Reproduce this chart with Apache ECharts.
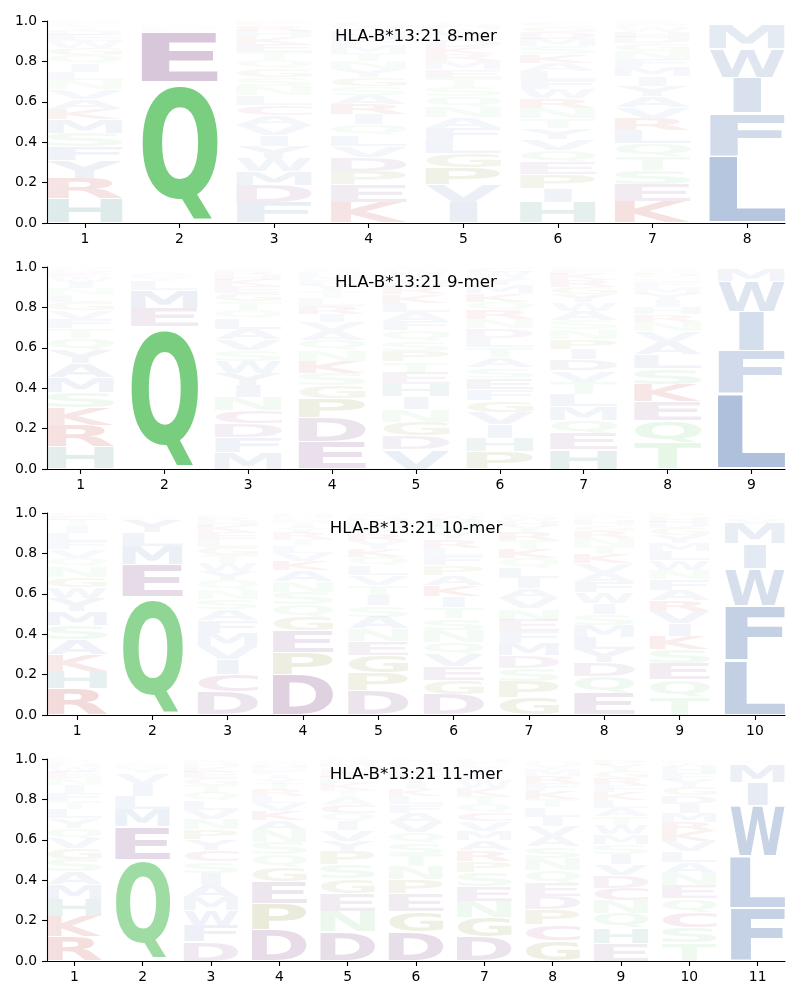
<!DOCTYPE html>
<html><head><meta charset="utf-8">
<script src="https://cdn.jsdelivr.net/npm/echarts@6/dist/echarts.min.js"></script>
<style>html,body{margin:0;padding:0;background:#fff}#chart{width:800px;height:1000px}</style>
</head><body><div id="chart"></div>
<script>
// ---------------- data (letter : probability per position) ----------------
const allele = 'HLA-B*13:21';
const lengths = [8, 9, 10, 11];
const yTicks = [0, 0.2, 0.4, 0.6, 0.8, 1.0];

const mer8 = [
 {H:.12,R:.10,Y:.088,F:.07,S:.068,M:.068,K:.05,A:.05,V:.048,N:.045,L:.042,I:.04,Q:.04,G:.038,W:.035,E:.03,D:.025,T:.02,C:.013,P:.01},
 {Q:.695,E:.25,L:.012,M:.01,Y:.008,D:.007,S:.006,T:.006,A:.006},
 {F:.10,D:.085,M:.07,W:.065,Y:.058,I:.055,V:.052,A:.05,C:.048,L:.048,N:.045,S:.045,G:.043,Q:.043,T:.04,E:.037,K:.035,H:.03,R:.028,P:.02},
 {K:.10,E:.088,P:.07,D:.068,V:.056,L:.055,Q:.05,I:.05,R:.05,A:.045,Y:.04,N:.04,S:.045,G:.045,T:.04,M:.038,F:.036,H:.032,W:.028,C:.02},
 {I:.10,V:.09,P:.085,G:.068,L:.065,F:.06,A:.055,N:.052,Q:.05,S:.048,T:.045,E:.042,M:.04,R:.036,K:.034,D:.034,Y:.03,W:.025,H:.022,C:.015},
 {H:.10,I:.07,P:.07,E:.062,Q:.058,V:.056,Y:.052,T:.05,N:.05,R:.048,W:.046,F:.045,L:.044,A:.042,K:.04,M:.038,S:.04,D:.035,G:.03,C:.02},
 {K:.105,E:.085,S:.07,T:.068,Q:.065,L:.065,R:.058,V:.056,A:.055,Y:.05,I:.048,M:.045,F:.042,N:.04,G:.036,D:.03,H:.028,W:.025,P:.02,C:.01},
 {L:.333,F:.212,I:.175,W:.145,M:.12,V:.008,Y:.004,A:.003}
];
const mer9 = [
 {H:.11,R:.105,K:.088,S:.078,M:.072,A:.07,Y:.065,Q:.06,T:.05,F:.045,V:.043,G:.04,L:.035,N:.032,I:.03,W:.025,E:.02,D:.015,P:.01,C:.007},
 {Q:.705,E:.092,M:.088,L:.045,Y:.02,D:.012,A:.01,S:.008,T:.008,V:.006,I:.006},
 {M:.08,F:.075,D:.068,C:.065,N:.065,I:.062,Y:.06,W:.058,S:.055,V:.053,A:.052,L:.05,Q:.045,T:.043,G:.04,E:.035,K:.03,H:.025,R:.02,P:.015},
 {E:.135,D:.12,P:.095,G:.065,S:.06,K:.058,N:.055,Q:.05,A:.045,V:.045,I:.04,R:.04,L:.038,T:.035,Y:.03,F:.025,M:.02,H:.018,W:.012,C:.008},
 {V:.095,D:.07,G:.068,I:.062,N:.063,H:.06,E:.058,T:.055,P:.053,S:.051,Q:.05,F:.047,A:.045,L:.044,K:.042,R:.038,M:.032,Y:.03,W:.02,C:.015},
 {P:.085,H:.068,I:.066,V:.062,G:.058,F:.056,E:.055,S:.052,A:.05,T:.05,L:.047,D:.046,N:.045,Q:.042,R:.045,K:.042,M:.04,Y:.036,W:.03,C:.02},
 {H:.095,E:.08,Q:.068,M:.066,L:.062,T:.06,V:.056,D:.055,I:.052,P:.05,N:.048,S:.046,A:.044,W:.042,Y:.04,G:.038,R:.035,K:.03,F:.025,C:.01},
 {T:.13,Q:.11,E:.092,K:.088,S:.08,L:.068,A:.06,V:.055,N:.045,R:.036,H:.035,I:.035,Y:.033,M:.031,F:.028,G:.022,D:.018,P:.015,W:.01,C:.008},
 {L:.37,F:.215,I:.195,W:.15,M:.06,V:.006,Y:.004}
];
const mer10 = [
 {R:.13,H:.088,K:.08,A:.075,S:.07,M:.07,Y:.065,W:.055,G:.05,N:.05,Q:.045,V:.043,F:.04,L:.04,I:.035,T:.03,E:.02,D:.015},
 {Q:.585,E:.16,M:.092,L:.068,Y:.062,D:.01,S:.008,A:.006,T:.005},
 {D:.115,C:.085,I:.075,V:.066,M:.065,F:.06,A:.055,S:.05,N:.048,Q:.046,Y:.045,W:.042,T:.04,G:.04,L:.038,E:.035,K:.03,H:.025,R:.02,P:.015},
 {D:.2,P:.11,E:.108,G:.068,Q:.062,S:.06,N:.055,A:.055,K:.045,V:.04,L:.035,T:.032,R:.03,Y:.025,I:.02,M:.018,F:.015,H:.012,W:.008,C:.006},
 {D:.12,P:.09,G:.085,E:.07,N:.062,A:.058,S:.056,I:.052,V:.048,T:.05,L:.047,Q:.045,K:.04,Y:.037,R:.035,F:.032,M:.028,H:.02,W:.012,C:.01},
 {D:.1,G:.07,E:.07,V:.06,Q:.06,N:.06,S:.057,T:.055,I:.055,K:.055,A:.05,P:.048,F:.046,L:.042,R:.04,Y:.035,M:.032,H:.03,W:.02,C:.015},
 {G:.085,P:.08,S:.066,D:.063,M:.06,F:.058,E:.058,N:.056,V:.052,A:.05,I:.05,L:.05,T:.045,Q:.048,K:.046,R:.04,Y:.03,H:.025,W:.02,C:.015},
 {E:.11,Q:.08,D:.07,Y:.065,L:.06,M:.058,S:.056,I:.055,W:.052,F:.05,A:.048,V:.046,K:.045,T:.042,N:.04,R:.035,G:.03,H:.025,P:.02,C:.015},
 {T:.09,Q:.085,E:.08,S:.07,K:.066,I:.062,V:.06,R:.055,A:.052,F:.05,N:.048,W:.046,L:.045,M:.042,Y:.04,G:.035,D:.03,H:.025,P:.02},
 {L:.272,F:.268,W:.185,I:.122,M:.1,V:.025,Y:.015,A:.008,T:.005}
];
const mer11 = [
 {R:.12,K:.1,H:.085,M:.075,A:.062,S:.06,G:.055,V:.05,Q:.05,Y:.048,L:.045,T:.04,F:.04,I:.038,N:.035,E:.03,W:.025,D:.02,P:.015,C:.01},
 {Q:.5,E:.165,M:.085,L:.065,I:.058,V:.055,Y:.025,D:.015,A:.01,S:.008,T:.007,F:.007},
 {D:.095,F:.082,W:.075,M:.065,A:.06,I:.058,S:.058,C:.055,Y:.052,P:.05,N:.05,V:.048,L:.045,Q:.04,T:.038,G:.035,E:.03,K:.025,H:.02,R:.015},
 {D:.155,P:.13,E:.11,G:.07,Q:.062,S:.06,N:.058,A:.05,K:.045,V:.04,L:.035,R:.032,T:.03,Y:.025,I:.022,F:.02,M:.018,H:.015,W:.01,C:.008},
 {D:.145,N:.1,E:.09,G:.072,S:.07,P:.066,Y:.052,V:.05,I:.046,Q:.042,C:.04,A:.038,T:.035,K:.032,L:.03,R:.028,F:.022,M:.02,H:.015,W:.01},
 {D:.145,G:.1,E:.09,P:.068,N:.065,T:.06,S:.058,Q:.052,V:.05,A:.045,F:.042,L:.04,K:.035,I:.032,Y:.03,R:.025,M:.022,H:.02,W:.012,C:.01},
 {D:.12,G:.095,N:.08,E:.075,S:.068,P:.056,R:.052,A:.05,M:.048,V:.045,C:.045,Q:.042,T:.04,K:.038,W:.035,L:.03,I:.025,Y:.022,F:.018,H:.015},
 {G:.1,C:.08,P:.075,D:.066,E:.065,Q:.062,N:.06,S:.058,A:.052,V:.05,I:.046,T:.042,L:.045,K:.042,F:.038,R:.035,M:.03,Y:.025,H:.015,W:.01},
 {E:.088,H:.075,Q:.072,N:.065,C:.062,D:.06,V:.056,I:.052,S:.05,M:.046,W:.045,T:.043,A:.042,L:.04,K:.038,R:.035,F:.036,G:.035,Y:.03,P:.025},
 {T:.09,S:.077,C:.075,Q:.066,E:.065,N:.06,A:.056,L:.052,V:.05,K:.05,R:.045,M:.045,I:.045,D:.042,G:.04,Y:.037,F:.035,H:.03,W:.02,P:.01},
 {F:.262,L:.256,W:.25,I:.115,M:.09,V:.012,Y:.008,A:.005}
];
const panels = [mer8, mer9, mer10, mer11];

// ---------------- styling ----------------
const groupOf = {A:'hyd',V:'hyd',L:'hyd',I:'hyd',M:'hyd',F:'hyd',W:'hyd',Y:'aro',
  S:'pol',T:'pol',N:'pol',Q:'pol',D:'acid',E:'acid',K:'base',R:'base',H:'his',G:'gp',P:'gp',C:'cys'};
const groupRGB = {hyd:[64,106,169], aro:[75,105,150], pol:[89,194,96], acid:[119,57,126],
  base:[177,12,12], his:[23,110,103], gp:[113,121,11], cys:[150,30,110]};
const ALPHA_K = 1.15;
const VPAD = 0.05;
const WIDTH = 0.8;
const GLYPH_FONT = 'bold 100px "DejaVu Sans"';

// glyph ink metrics (measured with baseline 'middle', like zrender draws)
const mctx = document.createElement('canvas').getContext('2d');
mctx.font = GLYPH_FONT; mctx.textBaseline = 'middle'; mctx.textAlign = 'left';
const metrics = {};
Object.keys(groupOf).forEach(ch => {
  const m = mctx.measureText(ch);
  metrics[ch] = {l: m.actualBoundingBoxLeft, a: m.actualBoundingBoxAscent,
    w: m.actualBoundingBoxLeft + m.actualBoundingBoxRight,
    h: m.actualBoundingBoxAscent + m.actualBoundingBoxDescent};
});

const gridTops = [21, 267, 513, 759];
const GRID_H = 202;
const fontFamily = '"DejaVu Sans", sans-serif';

const grids = [], xAxes = [], yAxes = [], titles = [], series = [];
panels.forEach((cols, p) => {
  const n = lengths[p];
  const positions = cols.map((_, i) => i + 1);
  grids.push({left: 47, right: 15, top: gridTops[p], height: GRID_H});
  titles.push({text: allele + ' ' + n + '-mer', left: 416, top: gridTops[p] + 7, textAlign: 'center', padding: 0,
    textStyle: {fontFamily, fontSize: 16.7, fontWeight: 'normal', color: '#000'}});
  xAxes.push({type: 'value', gridIndex: p, min: 0.6, max: n + 0.4,
    axisLine: {show: true, lineStyle: {color: '#000', width: 1.1}},
    axisTick: {show: true, length: 5, customValues: positions, lineStyle: {color: '#000', width: 1.1}},
    axisLabel: {customValues: positions, margin: 9, color: '#000', fontFamily, fontSize: 13.9},
    splitLine: {show: false}});
  yAxes.push({type: 'value', gridIndex: p, min: 0, max: 1, interval: 0.2,
    axisLine: {show: true, lineStyle: {color: '#000', width: 1.1}},
    axisTick: {show: true, length: 5, lineStyle: {color: '#000', width: 1.1}},
    axisLabel: {margin: 10, color: '#000', fontFamily, fontSize: 13.9, formatter: v => v.toFixed(1)},
    splitLine: {show: false}});

  const items = [];
  cols.forEach((col, i) => {
    const entries = Object.keys(col).map(k => [k, col[k]]).sort((a, b) => b[1] - a[1]);
    let y = 0;
    entries.forEach(([ch, h]) => { items.push({x: i + 1, y0: y, y1: y + h, ch, h}); y += h; });
  });
  series.push({
    type: 'custom', xAxisIndex: p, yAxisIndex: p, silent: true, clip: false,
    data: items.map(d => [d.x, d.y0, d.y1]),
    encode: {x: 0, y: [1, 2]},
    renderItem: (params, api) => {
      const it = items[params.dataIndex];
      const x = api.value(0), y0 = api.value(1), y1 = api.value(2);
      const pb = api.coord([x - WIDTH / 2, y0]);
      const pt = api.coord([x + WIDTH / 2, y1]);
      const boxW = pt[0] - pb[0];
      const fullH = pb[1] - pt[1];
      const pad = fullH * VPAD / 2;
      const boxH = fullH - 2 * pad;
      if (boxH <= 0.05) return null;
      const m = metrics[it.ch];
      const sx = Math.min(boxW / m.w, boxW / metrics.E.w);
      const drawW = sx * m.w;
      const sy = boxH / m.h;
      const c = groupRGB[groupOf[it.ch]];
      const alpha = Math.min(1, it.h * ALPHA_K);
      return {
        type: 'text',
        x: pb[0] + (boxW - drawW) / 2, y: pt[1] + pad,
        scaleX: sx, scaleY: sy,
        style: {text: it.ch, x: m.l, y: m.a, font: GLYPH_FONT, align: 'left', verticalAlign: 'middle',
          fill: 'rgba(' + c[0] + ',' + c[1] + ',' + c[2] + ',' + alpha.toFixed(3) + ')'}
      };
    }
  });
});

const chart = echarts.init(document.getElementById('chart'), null, {renderer: 'canvas'});
chart.setOption({animation: false, backgroundColor: '#fff', title: titles, grid: grids,
  xAxis: xAxes, yAxis: yAxes, series});
</script></body></html>
